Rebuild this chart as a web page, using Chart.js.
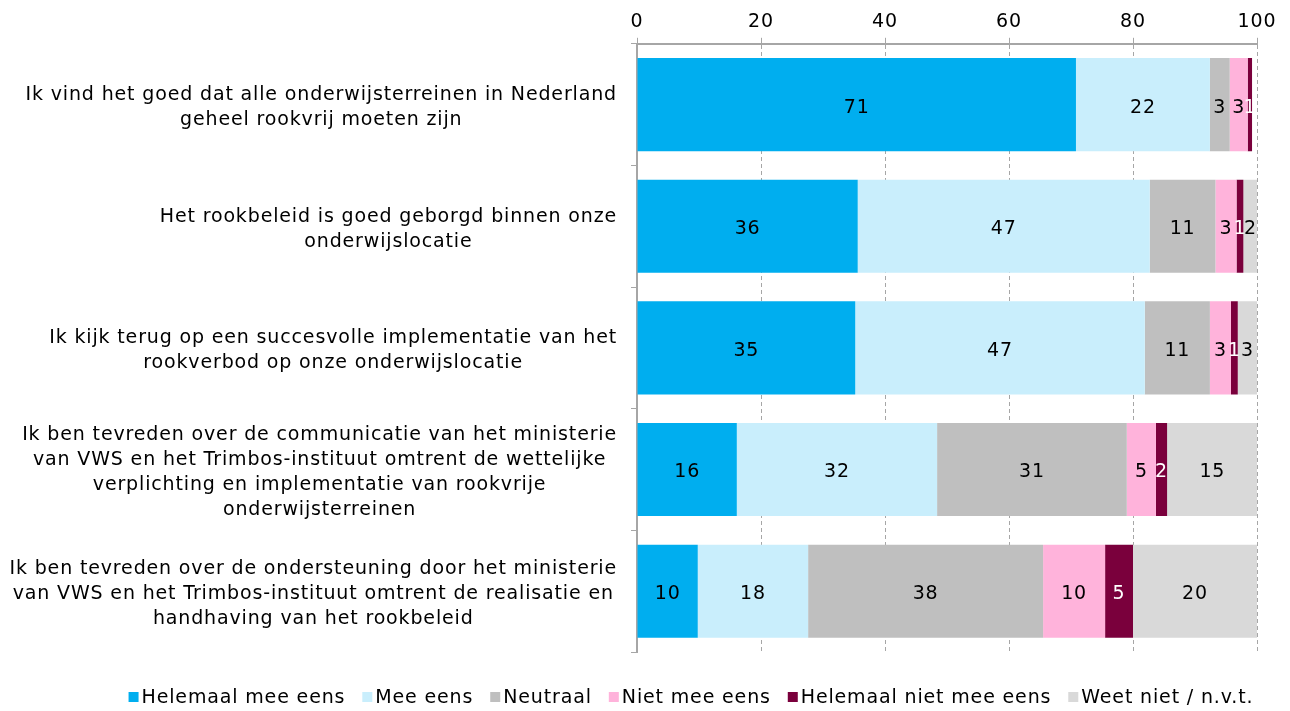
<!DOCTYPE html>
<html>
<head>
<meta charset="utf-8">
<script src="https://cdn.jsdelivr.net/npm/chart.js@4"></script>
<style>
  html, body { margin: 0; padding: 0; background: #fff; }
  #wrap { width: 1290px; height: 711px; }
</style>
</head>
<body>
<div id="wrap"><canvas id="chart" width="1290" height="711"></canvas></div>
<script>
const categories = [
  ["Ik vind het goed dat alle onderwijsterreinen in Nederland", "geheel rookvrij moeten zijn"],
  ["Het rookbeleid is goed geborgd binnen onze", "onderwijslocatie"],
  ["Ik kijk terug op een succesvolle implementatie van het", "rookverbod op onze onderwijslocatie"],
  ["Ik ben tevreden over de communicatie van het ministerie", "van VWS en het Trimbos-instituut omtrent de wettelijke", "verplichting en implementatie van rookvrije", "onderwijsterreinen"],
  ["Ik ben tevreden over de ondersteuning door het ministerie", "van VWS en het Trimbos-instituut omtrent de realisatie en", "handhaving van het rookbeleid"]
];

const helemaalMeeEens = [70.8, 35.6, 35.2, 16.1, 9.8];
const meeEens = [21.6, 47.1, 46.7, 32.3, 17.8];
const neutraal = [3.2, 10.6, 10.5, 30.6, 37.9];
const nietMeeEens = [2.9, 3.4, 3.4, 4.7, 10.0];
const helemaalNietMeeEens = [0.7, 1.1, 1.1, 1.8, 4.5];
const weetNiet = [0, 2.3, 3.1, 14.6, 20.0];

const xTicks = [0, 20, 40, 60, 80, 100];

const FONT = "'DejaVu Sans', sans-serif";
const SIZE = 19;
const SPACING = '0.85px';

// the original text is set a bit wider than DejaVu
const spacing = {
  id: 'spacing',
  beforeUpdate(chart) { chart.ctx.letterSpacing = SPACING; },
  beforeDraw(chart) { chart.ctx.letterSpacing = SPACING; }
};

// values printed in the middle of each segment
const valueLabels = {
  id: 'valueLabels',
  afterDatasetsDraw(chart) {
    const ctx = chart.ctx;
    ctx.save();
    ctx.font = SIZE + "px " + FONT;
    ctx.textAlign = 'center';
    ctx.textBaseline = 'middle';
    chart.data.datasets.forEach((ds, di) => {
      const meta = chart.getDatasetMeta(di);
      meta.data.forEach((bar, i) => {
        const v = ds.data[i];
        if (!v) return;
        const cx = (bar.x + bar.base) / 2;
        ctx.fillStyle = ds.labelColor || '#000';
        ctx.fillText(Math.round(v), cx, bar.y + 3);
      });
    });
    ctx.restore();
  }
};

// category labels: block right-aligned, lines centred inside the block
const rowLabels = {
  id: 'rowLabels',
  afterDraw(chart) {
    const ctx = chart.ctx;
    const y = chart.scales.y;
    const right = chart.scales.x.left - 20;
    const lh = 25;
    ctx.save();
    ctx.font = SIZE + "px " + FONT;
    ctx.fillStyle = '#000';
    ctx.textAlign = 'center';
    ctx.textBaseline = 'middle';
    categories.forEach((lines, i) => {
      const cy = y.getPixelForValue(i) + 3;
      const w = Math.max(...lines.map(l => ctx.measureText(l).width));
      const cx = right - w / 2;
      const y0 = cy - (lines.length - 1) * lh / 2;
      lines.forEach((l, k) => ctx.fillText(l, cx, y0 + k * lh));
    });
    ctx.restore();
  }
};

// legend row under the chart: small square, short gap, text
const legendRow = {
  id: 'legendRow',
  afterDraw(chart) {
    const ctx = chart.ctx;
    const box = 10, gap = 3, between = 17;
    ctx.save();
    ctx.font = SIZE + "px " + FONT;
    ctx.textBaseline = 'middle';
    ctx.textAlign = 'left';
    const items = chart.data.datasets.map(ds => ({ text: ds.label, color: ds.backgroundColor, w: ctx.measureText(ds.label).width }));
    const total = items.reduce((s, it) => s + box + gap + it.w, 0) + between * (items.length - 1);
    let x = 691 - total / 2;
    const cy = 697;
    items.forEach(it => {
      ctx.fillStyle = it.color;
      ctx.fillRect(x, cy - box / 2, box, box);
      x += box + gap;
      ctx.fillStyle = '#000';
      ctx.fillText(it.text, x, cy + 1);
      x += it.w + between;
    });
    ctx.restore();
  }
};

new Chart(document.getElementById('chart'), {
  type: 'bar',
  data: {
    labels: categories.map(c => c.join(' ')),
    datasets: [
      { label: 'Helemaal mee eens', data: helemaalMeeEens, backgroundColor: '#00AEEF' },
      { label: 'Mee eens', data: meeEens, backgroundColor: '#C9EEFC' },
      { label: 'Neutraal', data: neutraal, backgroundColor: '#BFBFBF' },
      { label: 'Niet mee eens', data: nietMeeEens, backgroundColor: '#FFB3DB' },
      { label: 'Helemaal niet mee eens', data: helemaalNietMeeEens, backgroundColor: '#7A003C', labelColor: '#fff' },
      { label: 'Weet niet / n.v.t.', data: weetNiet, backgroundColor: '#D9D9D9' }
    ]
  },
  options: {
    indexAxis: 'y',
    responsive: false,
    animation: false,
    layout: { padding: { top: 7, right: 33, bottom: 59, left: 0 } },
    datasets: { bar: { categoryPercentage: 0.765, barPercentage: 1, borderWidth: 0 } },
    scales: {
      x: {
        position: 'top',
        stacked: true,
        min: 0,
        max: 100,
        afterBuildTicks: (scale) => { scale.ticks = xTicks.map(v => ({ value: v })); },
        ticks: { color: '#000', font: { family: FONT, size: SIZE }, padding: 4 },
        grid: {
          color: '#A6A6A6',
          lineWidth: 1,
          tickLength: 6,
          tickBorderDash: [],
          tickColor: '#A6A6A6'
        },
        border: { display: true, color: '#A6A6A6', width: 2, dash: [4, 3] }
      },
      y: {
        stacked: true,
        afterFit: (scale) => { scale.width = 637; },
        ticks: { display: false },
        grid: { drawOnChartArea: false, offset: true, tickLength: 6, color: '#A6A6A6' },
        border: { display: true, color: '#A6A6A6', width: 2 }
      }
    },
    plugins: {
      legend: { display: false },
      tooltip: { enabled: false }
    }
  },
  plugins: [spacing, valueLabels, rowLabels, legendRow]
});
</script>
</body>
</html>
